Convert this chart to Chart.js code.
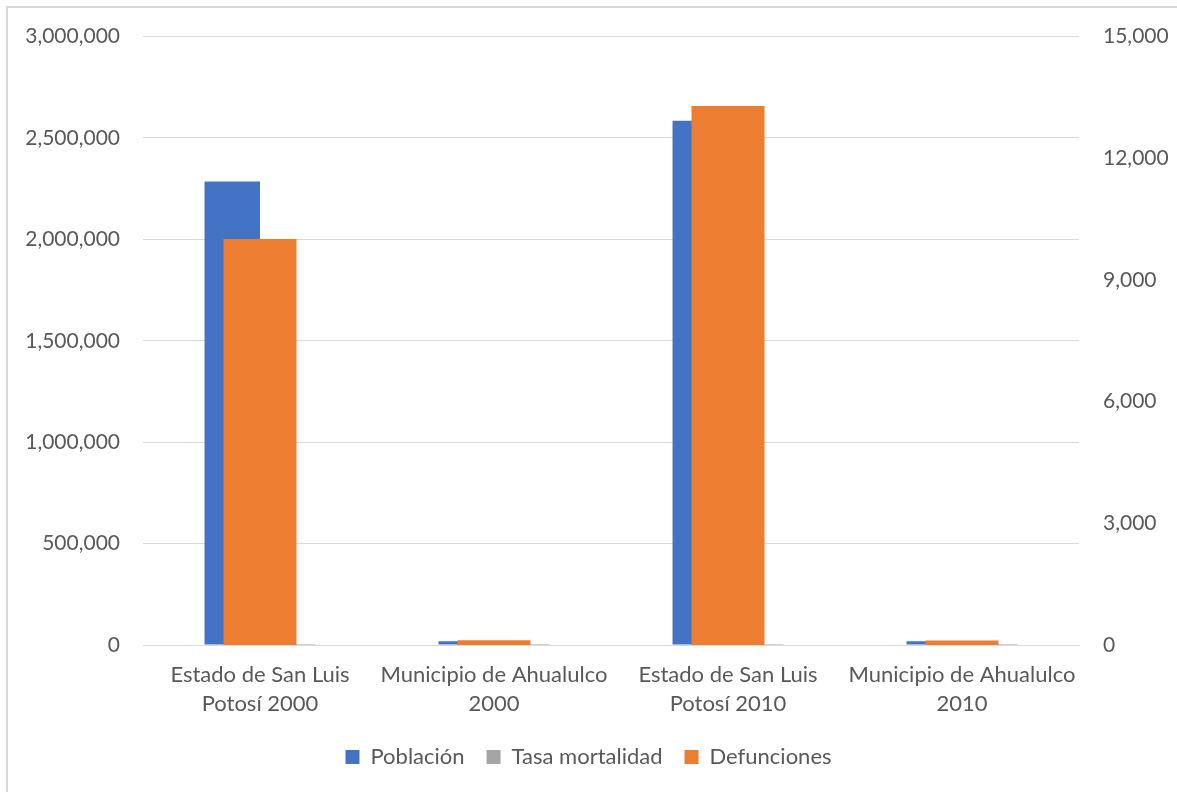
<!DOCTYPE html>
<html>
<head>
<meta charset="utf-8">
<script src="https://cdn.jsdelivr.net/npm/chart.js@4/dist/chart.umd.min.js"></script>
<style>
  html, body { margin: 0; padding: 0; background: #fff; overflow: hidden; }
  #wrap { position: relative; width: 1177px; height: 792px; }
  #frame { position: absolute; left: 6px; top: 6px; width: 1200px; height: 820px; border: 2px solid #d9d9d9; box-sizing: border-box; }
  canvas { position: absolute; left: 0; top: 0; }
</style>
</head>
<body>
<div id="wrap">
  <div id="frame"></div>
  <canvas id="chart" width="1177" height="792"></canvas>
</div>
<script>
// ── Data ──
const categories = [
    ['Estado de San Luis', 'Potosí 2000'],
    ['Municipio de Ahualulco', '2000'],
    ['Estado de San Luis', 'Potosí 2010'],
    ['Municipio de Ahualulco', '2010']
];
const poblacion = [2285000, 18000, 2585000, 18500];
const tasaMortalidad = [4.4, 6.4, 5.1, 5.9];
const defunciones = [10010, 116, 13290, 110];

const leftTicks = [0, 500000, 1000000, 1500000, 2000000, 2500000, 3000000];
const rightTicks = [0, 3000, 6000, 9000, 12000, 15000];

const FONT = 'Lato, "Open Sans", sans-serif';
const TEXT = '#595959';
const fmt = v => Number(v).toLocaleString('en-US');

// primary series sit side by side, the secondary one (Defunciones) is centred over them like in Excel
new Chart(document.getElementById('chart'), {
    type: 'bar',
    data: {
        labels: categories,
        datasets: [
            { label: 'Población', data: poblacion, backgroundColor: '#4472C4', yAxisID: 'y',
              stack: 'a', order: 1, barPercentage: 1, categoryPercentage: 0.474 },
            { label: 'Tasa mortalidad', data: tasaMortalidad, backgroundColor: '#A5A5A5', yAxisID: 'y',
              stack: 'b', order: 1, barPercentage: 1, categoryPercentage: 0.474 },
            { label: 'Defunciones', data: defunciones, backgroundColor: '#ED7D31', yAxisID: 'y2',
              stack: 'a', order: 0, grouped: false, barPercentage: 1, categoryPercentage: 0.312 }
        ]
    },
    options: {
        responsive: false,
        animation: false,
        devicePixelRatio: 1,
        layout: { padding: { top: 35, bottom: 14, left: 0, right: 0 } },
        plugins: {
            tooltip: { enabled: false },
            legend: {
                position: 'bottom',
                labels: {
                    color: TEXT, font: { family: FONT, size: 22 },
                    boxWidth: 14, boxHeight: 14, padding: 22,
                    sort: (a, b) => a.datasetIndex - b.datasetIndex
                }
            }
        },
        scales: {
            x: {
                position: 'bottom',
                stacked: true,
                grid: { display: false, drawTicks: false },
                border: { color: '#d9d9d9', width: 1 },
                ticks: { color: TEXT, font: { family: FONT, size: 22, lineHeight: 1.3 }, padding: 16,
                         maxRotation: 0, minRotation: 0, autoSkip: false },
                afterFit: s => { s.height = 79; }
            },
            y: {
                position: 'left', min: 0, max: 3000000, stacked: false,
                afterBuildTicks: s => { s.ticks = leftTicks.map(v => ({ value: v })); },
                grid: { color: '#d9d9d9', drawTicks: false },
                border: { display: false },
                ticks: { color: TEXT, font: { family: FONT, size: 21 }, padding: 23, callback: fmt },
                afterFit: s => { s.width = 143; }
            },
            y2: {
                position: 'right', min: 0, max: 15000, stacked: false,
                afterBuildTicks: s => { s.ticks = rightTicks.map(v => ({ value: v })); },
                grid: { display: false, drawTicks: false },
                border: { display: false },
                ticks: { color: TEXT, font: { family: FONT, size: 21 }, padding: 24, callback: fmt },
                afterFit: s => { s.width = 98; }
            }
        }
    }
});
</script>
</body>
</html>
